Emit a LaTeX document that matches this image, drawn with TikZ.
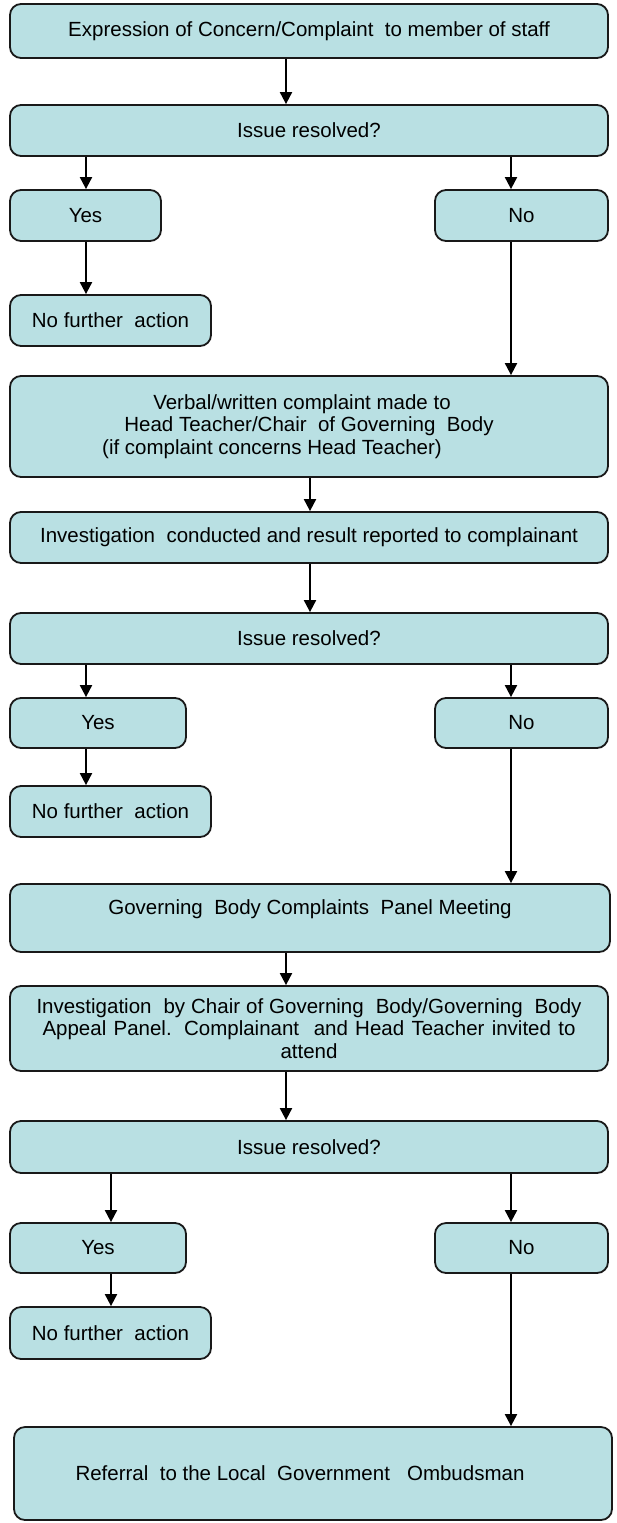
\documentclass[tikz,border=0pt]{standalone}
\usepackage{fontspec}
\setmainfont{Liberation Sans}
\usetikzlibrary{arrows.meta}
\definecolor{boxfill}{RGB}{185,224,227}
\tikzset{
    stepbox/.style={draw=black!90,fill=boxfill,line width=1.8pt,rounded corners=11pt,
        align=center,inner sep=0pt,font=\fontsize{20.5}{22.5}\selectfont},
    flow/.style={line width=2pt,-{Triangle[length=12pt,width=12pt]}}
}

\begin{document}
\begin{tikzpicture}[x=1pt,y=-1pt]
    \useasboundingbox (0,0) rectangle (616,1523);
    % arrow columns
    \coordinate (colMid) at (286,0);
    \coordinate (colInv) at (310,0);
    \coordinate (colL) at (86,0);
    \coordinate (colLc) at (111,0);
    \coordinate (colR) at (511,0);
    % stage one
    \node[stepbox,minimum width=598pt,minimum height=54pt] (expr) at (309,31)
        {Expression of Concern/Complaint\ \ to member of staff};
    \node[stepbox,minimum width=598pt,minimum height=51pt] (issueA) at (309,130.5) {Issue resolved?};
    \node[stepbox,minimum width=151pt,minimum height=51pt] (yesA) at (85.5,215.5) {Yes};
    \node[stepbox,minimum width=173pt,minimum height=51pt] (noA) at (521.5,215.5) {No};
    \node[stepbox,minimum width=201pt,minimum height=51pt] (nfaA) at (110.5,320.5) {No further\ \ action};
    % stage two
    \node[stepbox,minimum width=598pt,minimum height=101pt] (verbal) at (309,426.5)
        {Verbal/written complaint made to\hspace*{14pt}\\
         Head Teacher/Chair\ \ of Governing\ \ Body\hspace*{76pt}\\
         (if complaint concerns Head Teacher)\hspace*{74pt}};
    \node[stepbox,minimum width=598pt,minimum height=51pt] (investA) at (309,537.5)
        {Investigation\ \ conducted and result reported to complainant};
    \node[stepbox,minimum width=598pt,minimum height=51pt] (issueB) at (309,638.5) {Issue resolved?};
    \node[stepbox,minimum width=176pt,minimum height=50pt] (yesB) at (98,723) {Yes};
    \node[stepbox,minimum width=173pt,minimum height=50pt] (noB) at (521.5,723) {No};
    \node[stepbox,minimum width=201pt,minimum height=51pt] (nfaB) at (110.5,811.5) {No further\ \ action};
    % stage three
    \node[stepbox,minimum width=600pt,minimum height=68pt] (panel) at (310,918)
        {Governing\ \ Body Complaints\ \ Panel Meeting\\\mbox{}};
    \node[stepbox,minimum width=598pt,minimum height=85pt] (investB) at (309,1028.5)
        {\raisebox{-4pt}{\makebox[545pt][s]{Investigation\ \ by Chair of Governing\ \ Body/Governing\ \ Body}}\\
         \raisebox{-4pt}{\makebox[533pt][s]{Appeal Panel. Complainant\ \ and Head Teacher invited to}}\\
         \raisebox{-4pt}{attend}};
    \node[stepbox,minimum width=598pt,minimum height=52pt] (issueC) at (309,1147) {Issue resolved?};
    \node[stepbox,minimum width=176pt,minimum height=50pt] (yesC) at (98,1248) {Yes};
    \node[stepbox,minimum width=173pt,minimum height=50pt] (noC) at (521.5,1248) {No};
    \node[stepbox,minimum width=201pt,minimum height=52pt] (nfaC) at (110.5,1333) {No further\ \ action};
    \node[stepbox,minimum width=598pt,minimum height=93pt] (referral) at (313,1473.5)
        {Referral\ \ to the Local\ \ Government\ \ \ Ombudsman\hspace*{26pt}};
    % connectors
    \draw[flow] (expr.south -| colMid) -- (issueA.north -| colMid);
    \draw[flow] (issueA.south -| colL) -- (yesA.north -| colL);
    \draw[flow] (issueA.south -| colR) -- (noA.north -| colR);
    \draw[flow] (yesA.south -| colL) -- (nfaA.north -| colL);
    \draw[flow] (noA.south -| colR) -- (verbal.north -| colR);
    \draw[flow] (verbal.south -| colInv) -- (investA.north -| colInv);
    \draw[flow] (investA.south -| colInv) -- (issueB.north -| colInv);
    \draw[flow] (issueB.south -| colL) -- (yesB.north -| colL);
    \draw[flow] (issueB.south -| colR) -- (noB.north -| colR);
    \draw[flow] (yesB.south -| colL) -- (nfaB.north -| colL);
    \draw[flow] (noB.south -| colR) -- (panel.north -| colR);
    \draw[flow] (panel.south -| colMid) -- (investB.north -| colMid);
    \draw[flow] (investB.south -| colMid) -- (issueC.north -| colMid);
    \draw[flow] (issueC.south -| colLc) -- (yesC.north -| colLc);
    \draw[flow] (issueC.south -| colR) -- (noC.north -| colR);
    \draw[flow] (yesC.south -| colLc) -- (nfaC.north -| colLc);
    \draw[flow] (noC.south -| colR) -- (referral.north -| colR);
\end{tikzpicture}
\end{document}
